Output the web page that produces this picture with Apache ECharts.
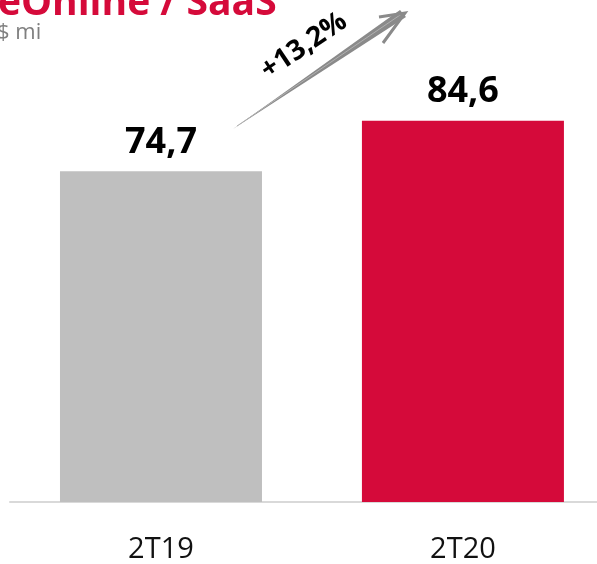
<!DOCTYPE html>
<html>
<head>
<meta charset="utf-8">
<script src="https://cdn.jsdelivr.net/npm/echarts@6/dist/echarts.min.js"></script>
<style>
  html, body { margin: 0; padding: 0; background: #fff; }
  #chart { width: 597px; height: 564px; }
</style>
</head>
<body>
<div id="chart"></div>
<script>
var categories = ["2T19", "2T20"];
var values = [74.7, 84.6];
var barColors = ["#bfbfbf", "#d50a3a"];
var growthLabel = "+13,2%";

var myChart = echarts.init(document.getElementById("chart"));

function fmt(v) {
  return v.toFixed(1).replace(".", ",");
}

// x is a value axis so the second category band can run past the right edge
myChart.setOption({
  animation: false,
  grid: {
    left: 10,
    right: 0,
    top: 42,
    bottom: 61
  },
  xAxis: {
    type: "value",
    min: -0.5,
    max: 1.444,
    splitLine: { show: false },
    axisTick: { show: false },
    axisLine: { show: true, onZero: false, lineStyle: { color: "#d9d9d9", width: 2 } },
    axisLabel: {
      customValues: categories.map(function (c, i) { return i; }),
      formatter: function (v) { return categories[Math.round(v)]; },
      margin: 33,
      fontSize: 29,
      fontFamily: "Open Sans",
      color: "#111"
    }
  },
  yAxis: {
    type: "value",
    show: false,
    min: 10,
    max: 100
  },
  series: [
    {
      type: "bar",
      barWidth: 202,
      data: values.map(function (v, i) {
        return { value: [i, v], itemStyle: { color: barColors[i] } };
      }),
      label: {
        show: true,
        position: "top",
        distance: 11,
        fontSize: 36,
        fontWeight: "bold",
        fontFamily: "Open Sans",
        color: "#000",
        formatter: function (p) { return fmt(p.value[1]); }
      }
    }
  ],
  graphic: [
    {
      type: "text",
      left: -2,
      top: -16,
      style: {
        text: "eOnline / SaaS",
        fontSize: 39,
        fontWeight: "bold",
        fontFamily: "Open Sans",
        fill: "#d50a3a"
      }
    },
    {
      type: "text",
      left: -3,
      top: 22,
      style: {
        text: "$ mi",
        fontSize: 22,
        fontFamily: "Open Sans",
        fill: "#7f7f7f"
      }
    },
    {
      type: "polygon",
      shape: { points: [[233, 129], [400, 10], [406, 17]] },
      style: { fill: "#8a8a8a" }
    },
    {
      type: "polyline",
      shape: { points: [[237, 126], [403, 13]] },
      style: { stroke: "#b0b0b0", lineWidth: 1, fill: null }
    },
    {
      type: "polyline",
      shape: { points: [[379, 17], [405, 13], [383, 43]] },
      style: { stroke: "#8a8a8a", lineWidth: 3, fill: null, lineJoin: "miter" }
    },
    {
      type: "text",
      x: 304,
      y: 46,
      rotation: 34 * Math.PI / 180,
      style: {
        text: growthLabel,
        fontSize: 28,
        fontWeight: "bold",
        fontFamily: "Open Sans",
        fill: "#000",
        align: "center",
        verticalAlign: "middle"
      }
    }
  ]
});
</script>
</body>
</html>
